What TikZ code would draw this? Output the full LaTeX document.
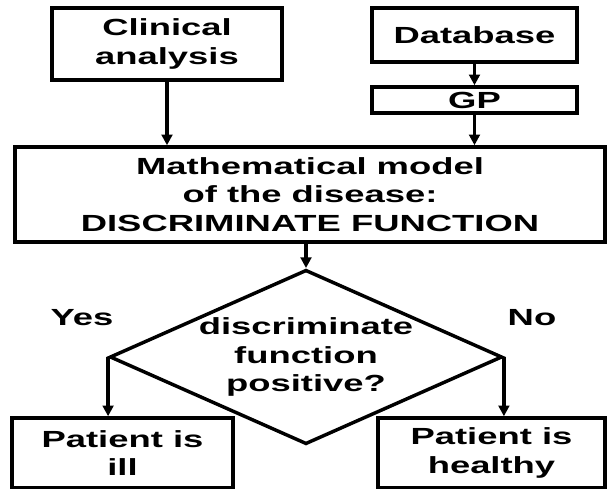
\documentclass[tikz,border=0pt]{standalone}
\usepackage{fontspec}
\setmainfont{Liberation Sans}[FakeStretch=1.56]
\usepackage{tikz}
\usetikzlibrary{positioning,shapes.geometric,arrows.meta,calc}

\begin{document}
\begin{tikzpicture}[
	x=0.75pt, y=-0.75pt,
	line width=2.6pt,
	every node/.style={
		text centered,
		font=\fontsize{17.5}{21.5}\selectfont\bfseries
	},
	>={Triangle[length=8pt,width=8pt]},
	stepbox/.style={
		rectangle,
		draw=black,
		line width=2.6pt,
		align=center,
		inner sep=0pt
	},
	decision/.style={
		diamond,
		draw=black,
		line width=2.6pt,
		aspect=2.25,
		align=center,
		inner sep=0pt,
		minimum width=288pt,
		minimum height=128pt
	},
	answer/.style={
		inner sep=0pt
	}
]
  \useasboundingbox (0,0) rectangle (608,489);

  \node (Clinical) [stepbox, minimum width=172.5pt, minimum height=54pt] at (167,44) {Clinical\\analysis};
  \node (Database) [stepbox, minimum width=153.75pt, minimum height=40.5pt] at (474.5,35) {Database};
  \node (GP) [stepbox, minimum width=153.75pt, minimum height=19.5pt] at (474.5,100) {GP};
  \node (Model) [stepbox, minimum width=442.5pt, minimum height=71.25pt] at (310,194.5) {Mathematical model\\of the disease:\\DISCRIMINATE FUNCTION};
  \node (Test) [decision] at (306,357) {discriminate\\function\\positive?};
  \node (Ill) [stepbox, minimum width=165.75pt, minimum height=52.5pt] at (122.5,453) {Patient is\\ill};
  \node (Healthy) [stepbox, minimum width=170.25pt, minimum height=52.5pt] at (491.5,453) {Patient is\\healthy};
  \node (Yes) [answer] at (82,318) {Yes};
  \node (No) [answer] at (532,318) {No};

  \draw[->] (Clinical) -- (Clinical |- Model.north);
  \draw[->] (Database) -- (GP);
  \draw[->] (GP) -- (GP |- Model.north);
  \draw[->] (Model.south -| Test.north) -- (Test.north);
  \draw[->] (Test.west) -- (Test.west |- Ill.north);
  \draw[->] (Test.east) -- (Test.east |- Healthy.north);
\end{tikzpicture}
\end{document}
